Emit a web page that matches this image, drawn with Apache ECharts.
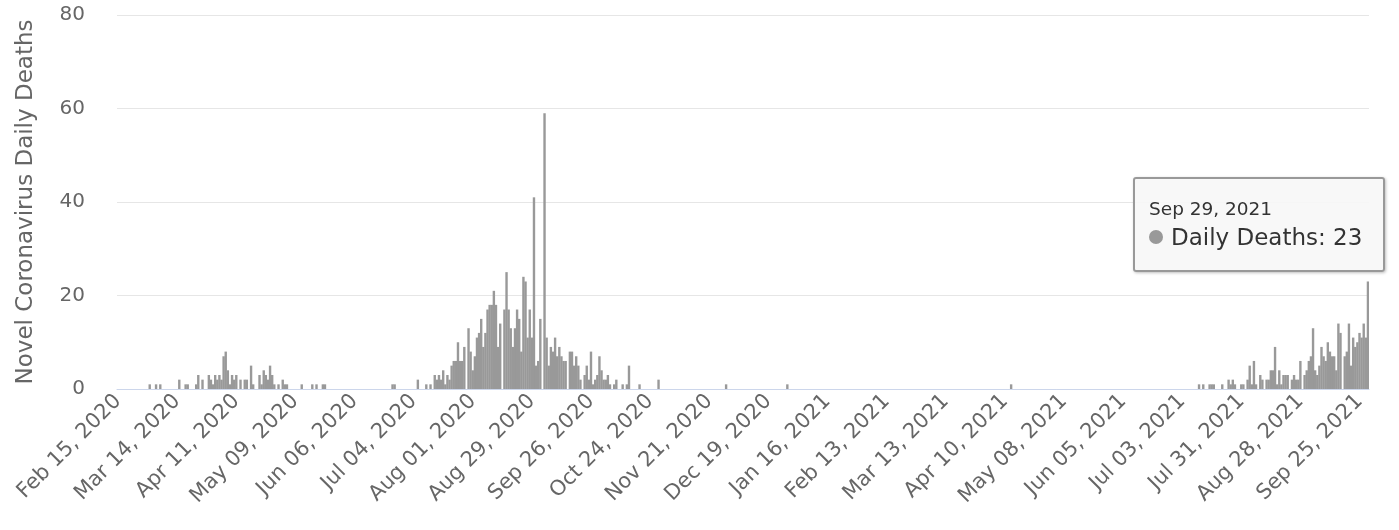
<!DOCTYPE html>
<html>
<head>
<meta charset="utf-8">
<script src="https://cdn.jsdelivr.net/npm/echarts@6/dist/echarts.min.js"></script>
<style>
html,body{margin:0;padding:0;background:#fff;}
#chart{width:1399px;height:530px;}
</style>
</head>
<body>
<div id="chart"></div>
<script>
// Daily deaths, one array per month (first day Feb 15, 2020)
const feb2020 = [0,0,0,0,0,0,0,0,0,0,0,0,0,0,0];
const mar2020 = [1,0,0,1,0,1,0,0,0,0, 0,0,0,0,2,0,0,1,1,0, 0,0,1,3,0,2,0,0,3,2, 1];
const apr2020 = [3,2,3,2,7,8,4,1,3,2, 3,0,2,0,2,2,0,5,1,0, 0,3,1,4,3,2,5,3,1,0];
const may2020 = [1,0,2,1,1,0,0,0,0,0, 0,1,0,0,0,0,1,0,1,0, 0,1,1,0,0,0,0,0,0,0, 0];
const jun2020 = [0,0,0,0,0,0,0,0,0,0, 0,0,0,0,0,0,0,0,0,0, 0,0,0,1,1,0,0,0,0,0];
const jul2020 = [0,0,0,0,0,2,0,0,0,1, 0,1,0,3,2,3,2,4,1,3, 2,5,6,6,10,6,6,9,0,13, 8];
const aug2020 = [4,7,11,12,15,9,12,17,18,18, 21,18,9,14,0,17,25,17,13,9, 13,17,15,8,24,23,11,17,11,41, 5];
const sep2020 = [6,15,0,59,11,5,9,8,11,7, 9,7,6,6,0,8,8,5,7,5, 2,0,3,5,2,8,1,2,3,7];
const oct2020 = [4,2,2,3,1,0,1,2,0,0, 1,0,1,5,0,0,0,0,1,0, 0,0,0,0,0,0,0,2,0,0, 0];
const nov2020 = [0,0,0,0,0,0,0,0,0,0, 0,0,0,0,0,0,0,0,0,0, 0,0,0,0,0,0,0,0,1,0];
const dec2020 = [0,0,0,0,0,0,0,0,0,0, 0,0,0,0,0,0,0,0,0,0, 0,0,0,0,0,0,0,1,0,0, 0];
const jan2021 = [0,0,0,0,0,0,0,0,0,0, 0,0,0,0,0,0,0,0,0,0, 0,0,0,0,0,0,0,0,0,0, 0];
const feb2021 = [0,0,0,0,0,0,0,0,0,0, 0,0,0,0,0,0,0,0,0,0, 0,0,0,0,0,0,0,0];
const mar2021 = [0,0,0,0,0,0,0,0,0,0, 0,0,0,0,0,0,0,0,0,0, 0,0,0,0,0,0,0,0,0,0, 0];
const apr2021 = [0,0,0,0,0,0,0,0,0,0, 0,0,1,0,0,0,0,0,0,0, 0,0,0,0,0,0,0,0,0,0];
const may2021 = [0,0,0,0,0,0,0,0,0,0, 0,0,0,0,0,0,0,0,0,0, 0,0,0,0,0,0,0,0,0,0, 0];
const jun2021 = [0,0,0,0,0,0,0,0,0,0, 0,0,0,0,0,0,0,0,0,0, 0,0,0,0,0,0,0,0,0,0];
const jul2021 = [0,0,0,0,0,0,0,0,0,0, 1,0,1,0,0,1,1,1,0,0, 0,1,0,0,2,1,2,1,0,0, 1];
const aug2021 = [1,0,2,5,1,6,1,0,3,2, 0,2,2,4,4,9,1,4,1,3, 3,3,0,2,3,2,2,6,0,3, 4];
const sep2021 = [6,7,13,4,3,5,9,7,6,10, 8,7,7,4,14,12,0,7,8,14, 5,11,9,10,12,11,14,11,23];

const startDate = {y: 2020, m: 1, d: 15}; // Feb 15, 2020 (month 0-based)
const seriesName = 'Daily Deaths';
const yTitle = 'Novel Coronavirus Daily Deaths';
const yTicks = [0, 20, 40, 60, 80];
const monthNames = ['Jan','Feb','Mar','Apr','May','Jun','Jul','Aug','Sep','Oct','Nov','Dec'];

const deaths = [].concat(feb2020, mar2020, apr2020, may2020, jun2020, jul2020, aug2020, sep2020,
  oct2020, nov2020, dec2020, jan2021, feb2021, mar2021, apr2021, may2021, jun2021, jul2021, aug2021, sep2021);

const dates = deaths.map((_, i) => new Date(Date.UTC(startDate.y, startDate.m, startDate.d + i)));
const categories = dates.map(dt =>
  monthNames[dt.getUTCMonth()] + ' ' + String(dt.getUTCDate()).padStart(2, '0') + ', ' + dt.getUTCFullYear());
const tooltipDates = dates.map(dt =>
  monthNames[dt.getUTCMonth()] + ' ' + dt.getUTCDate() + ', ' + dt.getUTCFullYear());

const FONT = '"DejaVu Sans", sans-serif';
const chart = echarts.init(document.getElementById('chart'), null, {renderer: 'canvas'});
const lastIdx = deaths.length - 1;

chart.setOption({
  animation: false,
  textStyle: {fontFamily: FONT},
  grid: {left: 117, right: 30, top: 15, bottom: 141, containLabel: false},
  tooltip: {
    trigger: 'item',
    alwaysShowContent: true,
    position: [1133, 177],
    backgroundColor: 'rgba(247,247,247,0.9)',
    borderColor: '#999',
    borderWidth: 2,
    padding: [19, 14, 18, 14],
    extraCssText: 'border-radius:3px;box-shadow:1px 1px 3px rgba(0,0,0,0.25);width:220px;',
    formatter: function (p) {
      return '<div style="font-family:\'DejaVu Sans\',sans-serif;color:#333;line-height:1.2">' +
        '<div style="font-size:18.5px;">' + tooltipDates[p.dataIndex] + '</div>' +
        '<div style="font-size:23px;margin-top:4px;white-space:nowrap"><span style="display:inline-block;width:14px;height:14px;border-radius:50%;background:#999;margin-right:8px;vertical-align:1px"></span>' +
        p.seriesName + ': ' + p.value + '</div></div>';
    }
  },
  xAxis: {
    type: 'category',
    data: categories,
    boundaryGap: true,
    axisLine: {lineStyle: {color: '#ccd6eb', width: 1}},
    axisTick: {show: false},
    axisLabel: {
      interval: 27,
      rotate: 45,
      color: '#666',
      fontSize: 21,
      margin: 9,
      fontFamily: FONT
    },
    splitLine: {show: false}
  },
  yAxis: {
    type: 'value',
    min: yTicks[0],
    max: yTicks[yTicks.length - 1],
    interval: 20,
    name: yTitle,
    nameLocation: 'middle',
    nameGap: 79,
    nameTextStyle: {color: '#666', fontSize: 23, fontFamily: FONT},
    axisLine: {show: false},
    axisTick: {show: false},
    axisLabel: {color: '#666', fontSize: 20, margin: 32, fontFamily: FONT},
    splitLine: {lineStyle: {color: '#e6e6e6', width: 1}}
  },
  series: [{
    type: 'bar',
    name: seriesName,
    data: deaths,
    barWidth: 2.4,
    itemStyle: {color: '#999999'},
    emphasis: {itemStyle: {color: '#a8a8a8'}}
  }]
});

chart.dispatchAction({type: 'showTip', seriesIndex: 0, dataIndex: lastIdx});
</script>
</body>
</html>
